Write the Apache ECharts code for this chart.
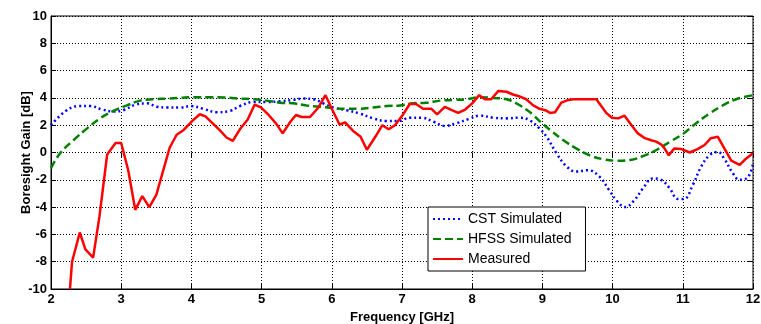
<!DOCTYPE html>
<html>
<head>
<meta charset="utf-8">
<script src="https://cdn.jsdelivr.net/npm/echarts@6/dist/echarts.min.js"></script>
<style>
  html, body { margin: 0; padding: 0; background: #fff; }
  #chart { width: 761px; height: 324px; }
</style>
</head>
<body>
<div id="chart"></div>
<script>
// values
var cstFreq = [2.0, 2.2, 2.39, 2.56, 2.73, 2.89, 3.03, 3.2, 3.37, 3.51, 3.65, 3.84, 4.0, 4.17, 4.36, 4.55, 4.69, 4.88, 5.07, 5.26, 5.45, 5.59, 5.74, 5.88, 6.02, 6.21, 6.4, 6.59, 6.78, 6.95, 7.11, 7.28, 7.45, 7.61, 7.78, 7.95, 8.11, 8.3, 8.49, 8.68, 8.82, 8.96, 9.06, 9.2, 9.34, 9.48, 9.65, 9.81, 9.95, 10.07, 10.18, 10.31, 10.43, 10.57, 10.69, 10.81, 10.93, 11.02, 11.14, 11.26, 11.38, 11.5, 11.59, 11.71, 11.81, 11.93, 12.0];
var cstGain = [2.0, 3.0, 3.4, 3.4, 3.15, 3.0, 3.1, 3.5, 3.6, 3.35, 3.3, 3.3, 3.4, 3.2, 2.95, 3.05, 3.4, 3.7, 3.7, 3.75, 3.85, 3.95, 3.9, 3.6, 3.3, 3.1, 2.85, 2.5, 2.3, 2.3, 2.55, 2.55, 2.25, 1.95, 2.15, 2.45, 2.7, 2.55, 2.5, 2.55, 2.35, 1.75, 1.15, -0.05, -1.0, -1.4, -1.3, -1.75, -2.75, -3.6, -4.0, -3.5, -2.65, -1.9, -2.0, -2.6, -3.4, -3.4, -2.4, -1.05, -0.2, 0.05, -0.45, -1.5, -2.0, -1.8, -0.8];

var hfssFreq = [2.0, 2.13, 2.32, 2.51, 2.7, 2.89, 3.08, 3.27, 3.46, 3.65, 3.84, 4.03, 4.22, 4.46, 4.69, 4.88, 5.07, 5.26, 5.45, 5.64, 5.83, 6.02, 6.21, 6.4, 6.59, 6.78, 6.97, 7.16, 7.35, 7.54, 7.73, 7.92, 8.11, 8.3, 8.49, 8.63, 8.77, 8.87, 8.96, 9.11, 9.3, 9.48, 9.67, 9.87, 10.06, 10.25, 10.44, 10.63, 10.82, 11.0, 11.19, 11.38, 11.57, 11.76, 12.0];
var hfssGain = [-1.15, -0.05, 0.9, 1.75, 2.5, 3.05, 3.45, 3.8, 3.9, 3.95, 4.0, 4.05, 4.05, 4.03, 3.95, 3.9, 3.8, 3.65, 3.6, 3.45, 3.35, 3.25, 3.2, 3.2, 3.3, 3.4, 3.45, 3.6, 3.65, 3.8, 3.85, 3.9, 4.05, 4.0, 3.9, 3.6, 3.15, 2.75, 2.3, 1.65, 0.9, 0.3, -0.2, -0.5, -0.6, -0.55, -0.25, 0.2, 0.8, 1.35, 2.15, 2.85, 3.45, 3.9, 4.2];

var measFreq = [2.27, 2.3, 2.41, 2.49, 2.6, 2.69, 2.8, 2.92, 3.0, 3.1, 3.2, 3.3, 3.4, 3.5, 3.69, 3.79, 3.89, 4.01, 4.12, 4.2, 4.4, 4.5, 4.59, 4.69, 4.8, 4.9, 4.99, 5.1, 5.21, 5.3, 5.41, 5.49, 5.57, 5.69, 5.81, 5.91, 6.01, 6.11, 6.19, 6.3, 6.41, 6.5, 6.62, 6.72, 6.81, 6.9, 7.01, 7.11, 7.2, 7.3, 7.42, 7.5, 7.61, 7.71, 7.8, 7.9, 8.0, 8.1, 8.18, 8.27, 8.37, 8.49, 8.58, 8.68, 8.77, 8.87, 8.96, 9.04, 9.11, 9.18, 9.27, 9.37, 9.44, 9.77, 9.81, 9.91, 9.99, 10.08, 10.17, 10.27, 10.36, 10.46, 10.55, 10.62, 10.69, 10.74, 10.8, 10.88, 10.98, 11.1, 11.21, 11.31, 11.4, 11.5, 11.57, 11.69, 11.81, 11.9, 12.0];
var measGain = [-10.0, -8.0, -5.86, -7.1, -7.7, -4.7, -0.15, 0.7, 0.7, -1.3, -4.2, -3.2, -4.0, -3.1, 0.35, 1.3, 1.65, 2.3, 2.8, 2.65, 1.65, 1.1, 0.85, 1.7, 2.4, 3.5, 3.3, 2.75, 2.1, 1.4, 2.25, 2.75, 2.6, 2.6, 3.3, 4.2, 3.1, 2.05, 2.2, 1.6, 1.15, 0.2, 1.15, 2.0, 1.7, 2.0, 2.75, 3.55, 3.55, 3.2, 3.2, 2.8, 3.35, 3.1, 2.9, 3.15, 3.6, 4.2, 3.9, 3.9, 4.5, 4.45, 4.25, 4.1, 3.9, 3.45, 3.2, 3.1, 2.9, 2.95, 3.65, 3.85, 3.9, 3.9, 3.6, 2.9, 2.55, 2.5, 2.7, 2.0, 1.4, 1.05, 0.9, 0.8, 0.6, 0.3, -0.2, 0.3, 0.25, 0.0, 0.25, 0.55, 1.05, 1.15, 0.5, -0.6, -0.9, -0.45, -0.05];

var seriesNames = ['CST Simulated', 'HFSS Simulated', 'Measured'];

function pairs(xs, ys) {
  return xs.map(function (x, i) { return [x, ys[i]]; });
}

var font = 'Arial, "Liberation Sans", sans-serif';
var myChart = echarts.init(document.getElementById('chart'));

var hiddenAxis = {
  axisLabel: { show: false },
  splitLine: { show: false },
  axisLine: { show: false },
  axisTick: { show: true, inside: true, length: 5, lineStyle: { color: '#000' } }
};

myChart.setOption({
  animation: false,
  backgroundColor: '#fff',
  grid: {
    left: 51, right: 8, top: 16, bottom: 35,
    outerBoundsMode: 'none', containLabel: false,
    show: true, borderColor: '#000', borderWidth: 1, backgroundColor: '#fff'
  },
  legend: {
    data: seriesNames,
    orient: 'vertical',
    left: 428, top: 207,
    itemWidth: 30, itemHeight: 12, itemGap: 6,
    padding: [5, 14, 5, 4],
    itemStyle: { opacity: 0, borderWidth: 0 },
    borderColor: '#000', borderWidth: 1, backgroundColor: '#fff',
    textStyle: { fontFamily: font, fontSize: 14, color: '#000' }
  },
  xAxis: [
    {
      type: 'value', min: 2, max: 12, interval: 1,
      name: 'Frequency [GHz]', nameLocation: 'middle', nameGap: 22, nameMoveOverlap: false,
      nameTextStyle: { fontFamily: font, fontSize: 13, fontWeight: 'bold', color: '#000' },
      axisLine: { show: true, onZero: false, lineStyle: { color: '#000' } },
      axisTick: { inside: true, length: 5, lineStyle: { color: '#000' } },
      axisLabel: { fontFamily: font, fontSize: 13, fontWeight: 'bold', color: '#000', margin: 4 },
      splitLine: { show: true, lineStyle: { type: [1, 2], color: '#000', width: 1 } }
    },
    Object.assign({ type: 'value', min: 2, max: 12, interval: 1, position: 'top' }, hiddenAxis)
  ],
  yAxis: [
    {
      type: 'value', min: -10, max: 10, interval: 2,
      name: 'Boresight Gain [dB]', nameLocation: 'middle', nameGap: 18, nameMoveOverlap: false,
      nameTextStyle: { fontFamily: font, fontSize: 13, fontWeight: 'bold', color: '#000' },
      axisLine: { show: true, onZero: false, lineStyle: { color: '#000' } },
      axisTick: { inside: true, length: 5, lineStyle: { color: '#000' } },
      axisLabel: { fontFamily: font, fontSize: 13, fontWeight: 'bold', color: '#000', margin: 4 },
      splitLine: { show: true, lineStyle: { type: [1, 2], color: '#000', width: 1 } }
    },
    Object.assign({ type: 'value', min: -10, max: 10, interval: 2, position: 'right' }, hiddenAxis)
  ],
  series: [
    {
      name: seriesNames[0], type: 'line', symbol: 'none', smooth: 0.4,
      data: pairs(cstFreq, cstGain),
      itemStyle: { color: '#0000ff' },
      lineStyle: { color: '#0000ff', width: 2.5, type: [2, 3] }
    },
    {
      name: seriesNames[1], type: 'line', symbol: 'none', smooth: 0.4,
      data: pairs(hfssFreq, hfssGain),
      itemStyle: { color: '#008000' },
      lineStyle: { color: '#008000', width: 2.5, type: [8, 4] }
    },
    {
      name: seriesNames[2], type: 'line', symbol: 'none',
      data: pairs(measFreq, measGain),
      itemStyle: { color: '#ff0000' },
      lineStyle: { color: '#ff0000', width: 2.5 }
    }
  ]
});
</script>
</body>
</html>
